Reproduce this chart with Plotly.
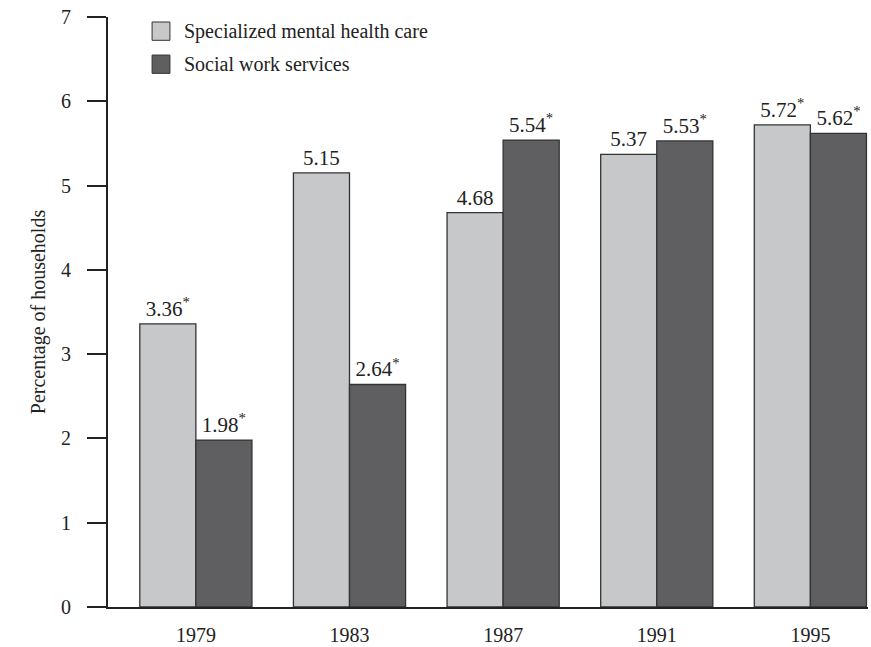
import plotly.graph_objects as go

years = ["1979", "1983", "1987", "1991", "1995"]
mental_health = [3.36, 5.15, 4.68, 5.37, 5.72]
social_work = [1.98, 2.64, 5.54, 5.53, 5.62]
mental_labels = ["3.36*", "5.15", "4.68", "5.37", "5.72*"]
social_labels = ["1.98*", "2.64*", "5.54*", "5.53*", "5.62*"]
series_names = ["Specialized mental health care", "Social work services"]
colors = ["#c7c8ca", "#5f5f61"]

FONT = "Liberation Serif"
FS = 20


def fmt(lbl):
    return lbl.replace("*", "<sup>*</sup>")


fig = go.Figure()
for name, vals, lbls, col in [
    (series_names[0], mental_health, mental_labels, colors[0]),
    (series_names[1], social_work, social_labels, colors[1]),
]:
    fig.add_trace(go.Bar(
        x=years, y=vals, name=name,
        text=[fmt(l) for l in lbls],
        textposition="outside", constraintext="none", cliponaxis=False,
        textfont=dict(family=FONT, size=FS + 1, color="#222"),
        marker=dict(color=col, line=dict(color="#333", width=1.3)),
    ))

# manual legend (larger swatches like the reference)
for i, (name, col) in enumerate(zip(series_names, colors)):
    yc = 0.976 - i * 0.056
    fig.add_shape(type="rect", xref="paper", yref="paper",
                  x0=0.058, x1=0.0815, y0=yc - 0.0155, y1=yc + 0.0155,
                  fillcolor=col, line=dict(color="#333", width=1))
    fig.add_annotation(xref="paper", yref="paper", x=0.097, y=yc,
                       text=name, showarrow=False, xanchor="left", yanchor="middle",
                       font=dict(family=FONT, size=FS, color="#222"))

fig.update_layout(
    width=871, height=647,
    margin=dict(l=108, r=3, t=17, b=40),
    paper_bgcolor="white", plot_bgcolor="white",
    barmode="group", bargap=0.27, bargroupgap=0.0,
    showlegend=False,
    font=dict(family=FONT, size=FS, color="#222"),
    xaxis=dict(
        range=[-0.572, 4.375], showgrid=False, zeroline=False, automargin=False,
        showline=True, linecolor="#222", linewidth=2, ticks="",
        ticklabelstandoff=9, tickfont=dict(family=FONT, size=FS, color="#222"),
    ),
    yaxis=dict(
        range=[0, 7], dtick=1, showgrid=False, zeroline=False, automargin=False,
        showline=True, linecolor="#222", linewidth=2,
        ticks="outside", ticklen=19, tickwidth=2, tickcolor="#222",
        ticklabelstandoff=12, tickfont=dict(family=FONT, size=FS, color="#222"),
        title=dict(text="Percentage of households", standoff=10,
                   font=dict(family=FONT, size=FS, color="#222")),
    ),
)

fig.write_html("out.html", config={"displayModeBar": False},
               post_script="document.body.style.margin='0';document.body.style.overflow='hidden';")
